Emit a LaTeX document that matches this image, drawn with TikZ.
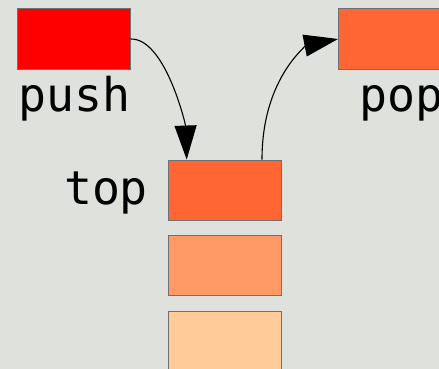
\documentclass[tikz,border=0pt]{standalone}
\usepackage{fontspec}
\newfontfamily\stackmono{DejaVu Sans Mono}
\usetikzlibrary{arrows.meta,calc}
\definecolor{bgcol}{HTML}{DFE1DC}
\definecolor{edgecol}{HTML}{707070}
\definecolor{pushcol}{HTML}{FF0000}
\definecolor{topcol}{HTML}{FF6633}
\definecolor{midcol}{HTML}{FF9966}
\definecolor{lowcol}{HTML}{FFCC99}
\tikzset{
  cell/.style={draw=edgecol, line width=1pt, rectangle, inner sep=0pt,
    minimum width=113pt, minimum height=60.5pt},
  lbl/.style={inner sep=0pt, font=\stackmono\fontsize{46.5}{46.5}\selectfont},
  flow/.style={black, line width=1.1pt, -{Triangle[length=34pt,width=22pt]}}
}
\begin{document}
\begin{tikzpicture}[x=1pt,y=-1pt]
  \fill[bgcol] (0,0) rectangle (439,369);
  \useasboundingbox (0,0) rectangle (439,369);
  \clip (0,0) rectangle (439,369);

  % incoming and outgoing elements
  \node[cell, fill=pushcol] (pushbox) at (73.6,39) {};
  \node[cell, fill=topcol] (popbox) at (395,39) {};
  \node[lbl, anchor=base] (pushlbl) at (74.5,111.7) {push};
  \node[lbl, anchor=base west] (poplbl) at (359,111.7) {pop};

  % the stack itself
  \node[cell, fill=topcol] (s1) at (225,190.3) {};
  \node[cell, fill=midcol] (s2) at (225,265.7) {};
  \node[cell, fill=lowcol] (s3) at (225,341.7) {};
  \node[lbl, anchor=base] (toplbl) at (106,204) {top};

  \coordinate (inpt) at ($(s1.north west)+(18.7,0)$);
  \coordinate (outpt) at ($(s1.north west)+(94,0)$);

  % push and pop arrows
  \draw[flow] (pushbox.east) .. controls (165,38) and (185.5,124) .. (inpt);
  \draw[flow] (outpt) .. controls (262,75) and (310,44.5) .. (popbox.west);
\end{tikzpicture}
\end{document}
